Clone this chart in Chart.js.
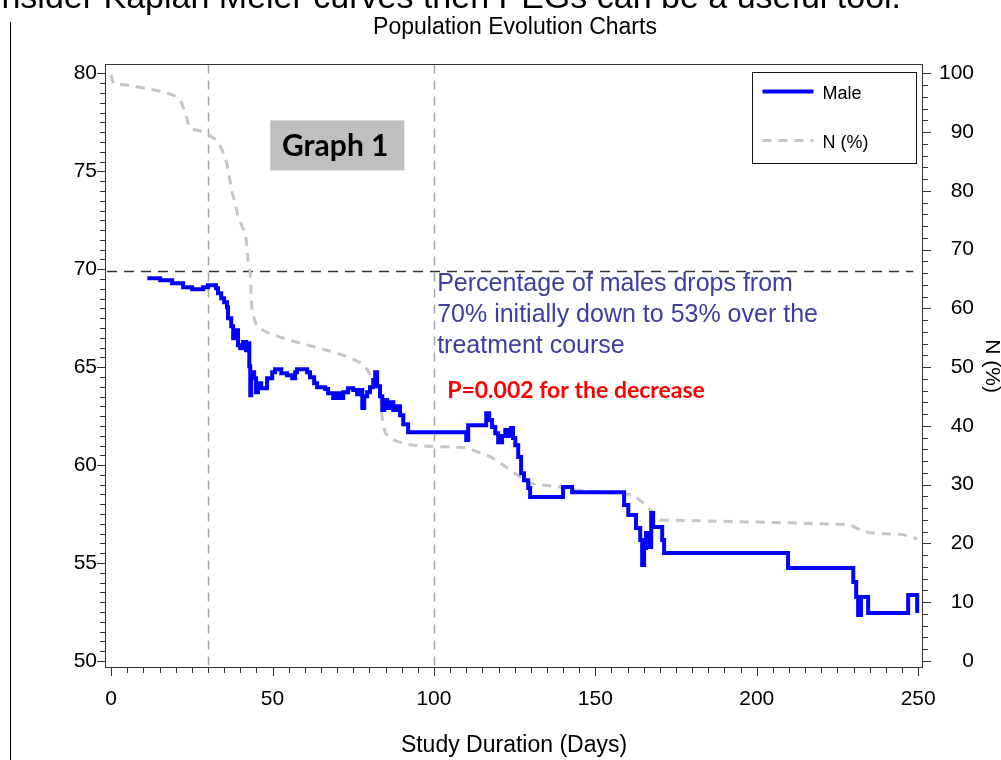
<!DOCTYPE html>
<html><head><meta charset="utf-8">
<script src="https://cdn.jsdelivr.net/npm/chart.js@4.4.1/dist/chart.umd.min.js"></script>
<style>
html,body{margin:0;padding:0;background:#fff;}
#wrap{position:relative;width:1001px;height:760px;overflow:hidden;background:#fff;}
#c{position:absolute;left:0;top:0;}
#slideText{position:absolute;left:-42px;top:-21px;font:34px "Liberation Sans",Arial,sans-serif;line-height:34px;white-space:nowrap;color:#000;}
#slideLine{position:absolute;left:10px;top:22px;width:1px;height:738px;background:#000;}
</style></head>
<body><div id="wrap"><canvas id="c" width="1001" height="760"></canvas>
<div id="slideText">Consider Kaplan Meier curves then PEGs can be a useful tool.</div>
<div id="slideLine"></div></div>
<script>
// ---------- data ----------
const chartTitle = 'Population Evolution Charts';
const xTitle = 'Study Duration (Days)';
const y1Title = 'N (%)';
const xTickValues = [0, 50, 100, 150, 200, 250];
const yTickValues = [50, 55, 60, 65, 70, 75, 80];
const y1TickValues = [0, 10, 20, 30, 40, 50, 60, 70, 80, 90, 100];
const seriesNames = ['Male', 'N (%)'];

const maleDays = [11.2,15.2,18.9,22.3,25.1,28.5,30.0,32.5,33.1,34.1,
  35.0,35.9,36.2,37.2,37.8,38.7,39.3,40.0,40.9,41.8,
  42.4,42.8,43.1,43.4,44.3,44.9,45.5,46.5,48.3,49.9,
  50.8,52.7,54.5,56.1,57.0,57.6,60.7,61.6,62.9,63.8,
  66.3,67.2,68.8,70.0,70.9,71.9,73.4,75.0,76.2,77.1,
  77.8,78.4,79.3,80.2,81.2,81.8,82.4,83.3,84.0,84.6,
  85.5,86.4,87.4,88.3,89.5,90.5,92.0,110.0,110.6,116.2,
  117.1,118.0,119.0,119.9,121.1,122.1,123.3,123.9,124.5,125.2,
  126.1,127.0,127.9,129.2,129.8,140.0,142.8,158.9,160.2,162.6,
  163.9,164.5,165.1,165.7,166.7,167.3,167.9,170.7,171.3,209.7,
  229.9,230.8,231.4,232.3,234.5,246.9,249.7];
const maleValues = [69.54,69.44,69.29,69.08,68.98,69.08,69.18,69.03,68.78,68.52,
  68.32,68.06,67.5,67.09,66.48,66.89,66.12,65.97,66.28,65.87,
  66.22,65.05,63.57,64.74,64.44,63.72,64.18,63.93,64.44,64.74,
  64.9,64.69,64.59,64.44,64.74,64.9,64.74,64.49,64.18,63.98,
  63.88,63.67,63.42,63.67,63.42,63.72,63.93,63.83,63.62,63.83,
  62.91,63.52,63.72,63.98,64.34,64.74,64.03,63.52,62.81,63.32,
  62.91,63.21,62.81,63.01,62.55,62.09,61.68,61.28,62.04,62.65,
  62.3,61.94,61.63,61.17,61.48,61.79,61.48,61.89,61.38,61.02,
  60.41,59.59,59.23,58.83,58.37,58.88,58.62,57.96,57.45,56.79,
  56.17,54.9,55.77,56.53,55.82,57.55,56.84,56.17,55.51,54.74,
  54.03,53.27,52.35,53.27,52.45,53.37,52.45];

const nDays = [0,0.6,7.4,12.1,16.7,20.1,21.7,22.9,23.5,24.2,
  25.4,28.2,30.0,32.2,33.8,35.0,35.9,36.6,37.5,38.4,
  39.3,40.6,41.5,42.1,42.4,43.1,43.4,43.7,45.2,48.3,
  54.5,60.7,63.8,68.8,73.1,77.1,79.3,81.2,82.7,83.6,
  84.0,84.9,87.4,91.7,99.8,110.3,113.4,117.4,120.5,123.6,
  126.7,129.8,139.1,143.1,161.7,164.8,167.9,170.1,210.3,228.9,
  232.0,235.1,245.4,249.7];
const nPct = [99.8,98.3,97.8,97.3,96.8,96.1,95.1,93.5,92.2,90.8,
  90.5,90.1,89.6,88.8,87.6,86.2,84.5,82.5,79.7,78.0,
  75.6,73.9,72.9,70.5,68.3,66.1,61.5,59.3,56.9,55.9,
  54.7,53.8,53.3,52.6,51.8,50.8,49.6,47.9,46.2,44.5,
  41.1,38.8,37.6,36.8,36.5,36.3,35.6,34.8,33.7,32.5,
  31.3,30.2,29.6,29.1,28.3,26.9,25.2,24.0,23.5,23.2,
  22.3,21.8,21.5,20.8];

const refDays = [30, 100];
const refMaleLevel = 70;
const graphLabel = 'Graph 1';
const noteLines = ['Percentage of males drops from', '70% initially down to 53% over the', 'treatment course'];
const pNote = 'P=0.002 for the decrease';

// ---------- styles ----------
const FONT = '"Liberation Sans", Arial, sans-serif';
const BOLD_FONT = 'Lato, "Open Sans", sans-serif';

const decorPlugin = {
  id: 'decor',
  beforeDatasetsDraw(chart) {
    const {ctx, chartArea: a, scales} = chart;
    ctx.save();
    ctx.strokeStyle = '#a6a6a6'; ctx.lineWidth = 1.5; ctx.setLineDash([9, 7]);
    refDays.forEach(d => {
      const x = Math.round(scales.x.getPixelForValue(d)) + 0.5;
      ctx.beginPath(); ctx.moveTo(x, a.top); ctx.lineTo(x, a.bottom); ctx.stroke();
    });
    ctx.strokeStyle = '#333'; ctx.setLineDash([10, 7]);
    const y = Math.round(scales.y.getPixelForValue(refMaleLevel)) + 2.5;
    ctx.beginPath(); ctx.moveTo(a.left + 2, y); ctx.lineTo(scales.x.getPixelForValue(248.5), y); ctx.stroke();
    ctx.restore();
  },
  afterDraw(chart) {
    const {ctx, chartArea: a, scales} = chart;
    ctx.save();
    ctx.strokeStyle = '#333'; ctx.lineWidth = 1; ctx.setLineDash([]);
    ctx.strokeRect(Math.round(a.left) + 0.5, Math.round(a.top) + 0.5, Math.round(a.right - a.left) - 1, Math.round(a.bottom - a.top) - 1);
    const drawTicks = (scale, step, major, side) => {
      const n0 = Math.ceil(scale.min / step - 1e-9), n1 = Math.floor(scale.max / step + 1e-9);
      for (let n = n0; n <= n1; n++) {
        const v = n * step;
        const isMajor = Math.abs(v / major - Math.round(v / major)) < 1e-6;
        const len = isMajor ? 8 : 5;
        const p = Math.round(scale.getPixelForValue(v)) + 0.5;
        ctx.beginPath();
        if (side === 'left') { ctx.moveTo(a.left, p); ctx.lineTo(a.left - len, p); }
        else if (side === 'right') { ctx.moveTo(a.right, p); ctx.lineTo(a.right + len, p); }
        else { ctx.moveTo(p, a.bottom); ctx.lineTo(p, a.bottom + len); }
        ctx.stroke();
      }
    };
    drawTicks(scales.x, 5, 50, 'bottom');
    drawTicks(scales.y, 0.5, 5, 'left');
    drawTicks(scales.y1, 2, 10, 'right');

    // Graph 1 box
    const gx = scales.x.getPixelForValue(49.3), gy = scales.y.getPixelForValue(77.6);
    ctx.fillStyle = '#bfbfbf'; ctx.fillRect(gx, gy, 134, 50);
    ctx.fillStyle = '#000'; ctx.font = 'bold 30px ' + BOLD_FONT;
    ctx.textAlign = 'center'; ctx.textBaseline = 'middle';
    ctx.fillText(graphLabel, gx + 65, gy + 26);

    // blue note
    ctx.fillStyle = '#3d3da3'; ctx.font = '25px ' + FONT; ctx.textAlign = 'left';
    const nx = scales.x.getPixelForValue(101), ny = scales.y.getPixelForValue(69.23);
    noteLines.forEach((t, i) => ctx.fillText(t, nx, ny + i * 31));
    // p note
    ctx.fillStyle = '#ff0000'; ctx.font = 'bold 23px ' + BOLD_FONT;
    ctx.fillText(pNote, scales.x.getPixelForValue(104.1), scales.y.getPixelForValue(63.83));

    // legend
    const lx = Math.round(a.right) - 171 + 0.5, ly = Math.round(a.top) + 8 + 0.5, lw = 164, lh = 91;
    ctx.strokeStyle = '#111'; ctx.lineWidth = 1; ctx.strokeRect(lx, ly, lw, lh);
    chart.data.datasets.forEach((ds, i) => {
      const sy = ly + 19 + i * 49;
      ctx.strokeStyle = ds.borderColor; ctx.lineWidth = ds.borderWidth;
      ctx.setLineDash(ds.borderDash || []);
      ctx.beginPath(); ctx.moveTo(lx + 10, sy); ctx.lineTo(lx + 61, sy); ctx.stroke();
      ctx.setLineDash([]);
      ctx.fillStyle = '#000'; ctx.font = '18px ' + FONT; ctx.textAlign = 'left'; ctx.textBaseline = 'middle';
      ctx.fillText(ds.label, lx + 70, sy + 3);
    });
    ctx.restore();
  }
};

const tickFont = {family: FONT, size: 21};
new Chart(document.getElementById('c'), {
  type: 'line',
  data: {
    datasets: [
      {label: seriesNames[0], data: maleDays.map((d, i) => ({x: d, y: maleValues[i]})),
       borderColor: '#0000ff', borderWidth: 4, stepped: 'before', pointRadius: 0, yAxisID: 'y', order: 0, fill: false},
      {label: seriesNames[1], data: nDays.map((d, i) => ({x: d, y: nPct[i]})),
       borderColor: '#c6c6c6', borderWidth: 3, borderDash: [9, 7], pointRadius: 0, yAxisID: 'y1', order: 1, fill: false, tension: 0}
    ]
  },
  options: {
    responsive: false, animation: false, devicePixelRatio: 1,
    layout: {padding: {left: 56, right: 27, top: 0, bottom: 0}},
    plugins: {
      legend: {display: false}, tooltip: {enabled: false},
      title: {display: true, text: chartTitle, color: '#000',
        font: {family: FONT, size: 23, weight: 'normal', lineHeight: 1.2}, padding: {top: 14, bottom: 22.8}}
    },
    scales: {
      x: {type: 'linear', position: 'bottom', min: -1.9, max: 251.5,
        afterBuildTicks: s => { s.ticks = xTickValues.map(v => ({value: v})); },
        afterFit: s => { s.height = 92; },
        grid: {display: false, drawTicks: true, tickLength: 8}, border: {display: false},
        ticks: {autoSkip: false, maxRotation: 0, color: '#000', font: tickFont, padding: 11, callback: v => String(v)},
        title: {display: true, text: xTitle, color: '#000', font: {family: FONT, size: 23, lineHeight: 1.2}, padding: {top: 0, bottom: 1}}},
      y: {type: 'linear', position: 'left', min: 49.64, max: 80.46,
        afterBuildTicks: s => { s.ticks = yTickValues.map(v => ({value: v})); },
        afterFit: s => { s.width = 49; },
        grid: {display: false, drawTicks: true, tickLength: 8}, border: {display: false},
        ticks: {autoSkip: false, color: '#000', font: tickFont, padding: 0, callback: v => String(v)}},
      y1: {type: 'linear', position: 'right', min: -1.2, max: 101.53,
        afterBuildTicks: s => { s.ticks = y1TickValues.map(v => ({value: v})); },
        afterFit: s => { s.width = 51; },
        grid: {display: false, drawTicks: true, tickLength: 8}, border: {display: false},
        ticks: {autoSkip: false, color: '#000', font: tickFont, padding: 12, crossAlign: 'far', callback: v => String(v)},
        title: {display: true, text: y1Title, color: '#000', font: {family: FONT, size: 21, lineHeight: 1.0}, padding: {top: -28, bottom: 0}}}
    }
  },
  plugins: [decorPlugin]
});
</script>
</body></html>
